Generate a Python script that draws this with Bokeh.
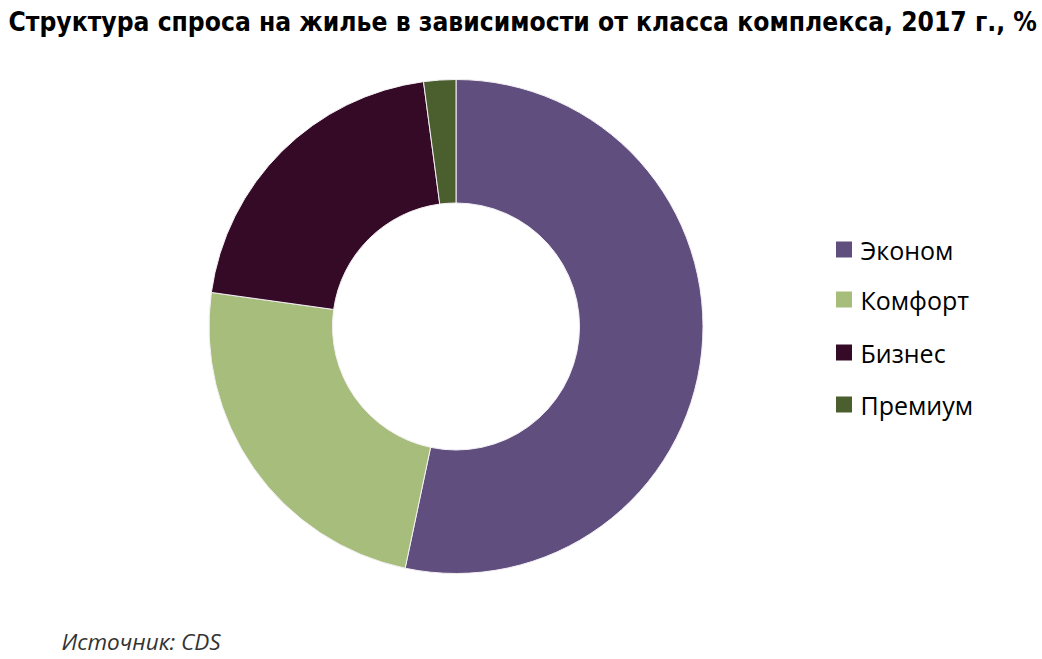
import math
from bokeh.plotting import figure
from bokeh.models import ColumnDataSource, Range1d
from bokeh.core.properties import value
from bokeh.embed import file_html
from bokeh.resources import INLINE

categories = ["Эконом", "Комфорт", "Бизнес", "Премиум"]
shares = [53.3, 23.9, 20.7, 2.1]
colors = ["#604E7F", "#A6BD7C", "#350A26", "#4A5E2E"]
title_text = "Структура спроса на жилье в зависимости от класса комплекса, 2017 г., %"
source_text = "Источник: CDS"

W, H = 1040, 657
p = figure(width=W, height=H, output_backend="svg", toolbar_location=None,
           x_range=Range1d(0, W), y_range=Range1d(0, H), min_border=0)
p.axis.visible = False
p.grid.visible = False
p.outline_line_color = None
p.background_fill_color = "white"

def px(X):
    return X
def py(Y):
    return H - Y

total = sum(shares)
starts, ends = [], []
cum = 0.0
for s in shares:
    a0 = math.pi / 2 - 2 * math.pi * cum / total
    cum += s
    a1 = math.pi / 2 - 2 * math.pi * cum / total
    starts.append(a0)
    ends.append(a1)

src = ColumnDataSource(dict(cat=categories, start=starts, end=ends, color=colors))
p.annular_wedge(x=px(455.5), y=py(326), inner_radius=123.5, outer_radius=247,
                start_angle="start", end_angle="end", direction="clock",
                fill_color="color", line_color="#F4F0F4", line_width=1, source=src)

ly = [249, 299, 352, 404]
leg = ColumnDataSource(dict(x=[px(843.5)] * 4, y=[py(v) for v in ly], cat=categories,
                            color=colors, tx=[px(860)] * 4))
p.rect(x="x", y="y", width=16, height=16, fill_color="color", line_color=None, source=leg)
p.text(x="tx", y="y", text="cat", text_font=value("Open Sans"), text_font_size="25px",
       text_baseline="middle", text_align="left", text_color="#000000", source=leg)

p.text(x=[px(8)], y=[py(21)], text=[title_text], text_font=value("DejaVu Sans Condensed"),
       text_font_style="bold", text_font_size="26.2px", text_baseline="middle",
       text_align="left", text_color="#000000")
p.text(x=[px(61)], y=[py(641)], text=[source_text], text_font=value("Open Sans"),
       text_font_style="italic", text_font_size="22.5px", text_baseline="middle",
       text_align="left", text_color="#333333")

open("out.html", "w").write(file_html(p, INLINE))
